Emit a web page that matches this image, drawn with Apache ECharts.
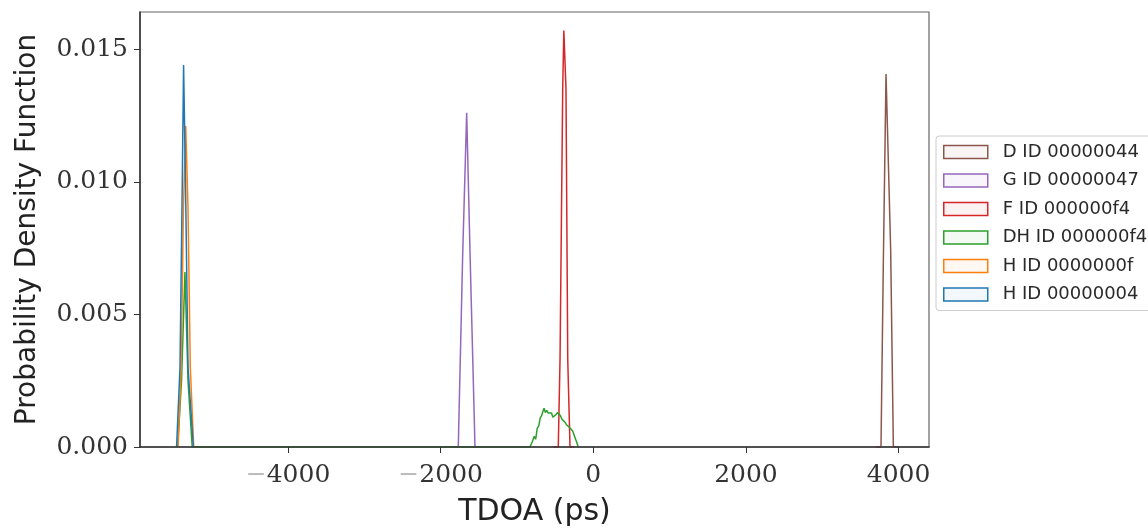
<!DOCTYPE html>
<html>
<head>
<meta charset="utf-8">
<script src="https://cdn.jsdelivr.net/npm/echarts@6/dist/echarts.min.js"></script>
<style>
  html, body { margin: 0; padding: 0; background: #fff; }
  #chart { width: 1148px; height: 532px; }
</style>
</head>
<body>
<div id="chart"></div>
<script>
// TDOA (ps) / density values
const namesList = ['D ID 00000044', 'G ID 00000047', 'F ID 000000f4', 'DH ID 000000f4', 'H ID 0000000f', 'H ID 00000004'];
const colorsList = ['#8c564b', '#9467bd', '#d62728', '#2ca02c', '#ff7f0e', '#1f77b4'];

const dX = [3700, 3769, 3800, 3835, 3896, 3931, 4000];
const dY = [0, 0, 0.0070, 0.01406, 0.0074, 0, 0];

const gX = [-1830, -1769, -1711, -1659, -1615, -1550, -1500];
const gY = [0, 0, 0.0073, 0.0126, 0.0073, 0, 0];

const fX = [-520, -459, -436, -401, -386, -358, -335, -305, -250];
const fY = [0, 0, 0.0033, 0.0135, 0.0157, 0.0135, 0.0033, 0, 0];

// DH: small spike near -5350 and the noisy bump around -600
const dhX = [-5445, -5395, -5350, -5310, -5255, -830, -800, -775, -755, -735, -715, -695, -675, -660, -645, -628, -610, -590, -570, -548, -530, -510, -490, -468, -448, -430, -410, -392, -372, -352, -332, -312, -292, -270, -245, -220, -197];
const dhY = [0, 0.0025, 0.0066, 0.0025, 0, 0, 0.0002, 0.0004, 0.0003, 0.0007, 0.0008, 0.0011, 0.0012, 0.00135, 0.00146, 0.0013, 0.00138, 0.00128, 0.00122, 0.00128, 0.00112, 0.00118, 0.00122, 0.0013, 0.00131, 0.00118, 0.00104, 0.00098, 0.00094, 0.00084, 0.0008, 0.00074, 0.00071, 0.0006, 0.0004, 0.0002, 0];

const h0fX = [-5440, -5400, -5370, -5340, -5310, -5280, -5235];
const h0fY = [0, 0.003, 0.009, 0.0121, 0.009, 0.003, 0];

const h04X = [-5460, -5415, -5385, -5368, -5343, -5310, -5240];
const h04Y = [0, 0.0030, 0.0100, 0.0144, 0.0100, 0.0030, 0];

const xTicks = [-4000, -2000, 0, 2000, 4000];
const yTicks = [0, 0.005, 0.010, 0.015];

const allX = [dX, gX, fX, dhX, h0fX, h04X];
const allY = [dY, gY, fY, dhY, h0fY, h04Y];

function pairs(xs, ys) {
  return xs.map((x, i) => [x, ys[i]]);
}

function tint(hex, a) {
  const n = parseInt(hex.slice(1), 16);
  return 'rgba(' + (n >> 16) + ',' + ((n >> 8) & 255) + ',' + (n & 255) + ',' + a + ')';
}

const chart = echarts.init(document.getElementById('chart'));

const option = {
  animation: false,
  grid: {
    left: 140, right: 219, top: 12, bottom: 83,
    show: true, borderColor: '#666', borderWidth: 1.2
  },
  legend: {
    orient: 'vertical',
    left: 936, top: 136,
    padding: [7, 8, 7, 7],
    backgroundColor: '#fff',
    borderColor: '#ccc', borderWidth: 1, borderRadius: 3,
    icon: 'rect',
    itemWidth: 44, itemHeight: 13, itemGap: 10.5,
    textStyle: { fontFamily: 'DejaVu Sans', fontSize: 18, color: '#2a2a2a', padding: [0, 0, 0, 10] },
    data: namesList.map((n, i) => ({
      name: n,
      itemStyle: { color: tint(colorsList[i], 0.06), borderColor: colorsList[i], borderWidth: 1.5 }
    }))
  },
  xAxis: {
    type: 'value',
    min: -5939, max: 4398,
    splitNumber: 5,
    z: 5,
    name: 'TDOA (ps)',
    nameLocation: 'middle',
    nameGap: 50,
    nameTextStyle: { fontFamily: 'DejaVu Sans', fontSize: 30, color: '#222' },
    splitLine: { show: false },
    axisLine: { onZero: false, lineStyle: { color: '#333', width: 1.5 } },
    axisTick: { length: 6, lineStyle: { color: '#333' } },
    axisLabel: {
      margin: 16,
      showMinLabel: false, showMaxLabel: false,
      fontFamily: 'DejaVu Serif', fontSize: 25, color: '#333',
      formatter: v => xTicks.includes(v) ? (v < 0 ? '{m|\u2212}{n|' + Math.abs(v) + '}' : '{n|' + v + '}') : '',
      rich: {
        m: { fontFamily: 'DejaVu Serif', fontSize: 25, color: '#bbb' },
        n: { fontFamily: 'DejaVu Serif', fontSize: 25, color: '#333' }
      }
    }
  },
  yAxis: {
    type: 'value',
    min: 0, max: 0.0164,
    interval: 0.005,
    z: 5,
    name: 'Probability Density Function',
    nameLocation: 'middle',
    nameGap: 98,
    nameTextStyle: { fontFamily: 'DejaVu Sans', fontSize: 28, color: '#222' },
    splitLine: { show: false },
    axisLine: { show: true, onZero: false, lineStyle: { color: '#333', width: 1.5 } },
    axisTick: { show: true, length: 6, lineStyle: { color: '#333' } },
    axisLabel: {
      margin: 12,
      showMaxLabel: false,
      fontFamily: 'DejaVu Serif', fontSize: 25, color: '#333',
      formatter: v => yTicks.some(t => Math.abs(t - v) < 1e-9) ? v.toFixed(3) : ''
    }
  },
  series: namesList.map((n, i) => ({
    name: n,
    type: 'line',
    data: pairs(allX[i], allY[i]),
    showSymbol: false,
    symbol: 'none',
    lineStyle: { color: colorsList[i], width: 1.5 },
    itemStyle: { color: colorsList[i] }
  }))
};

chart.setOption(option);
</script>
</body>
</html>
